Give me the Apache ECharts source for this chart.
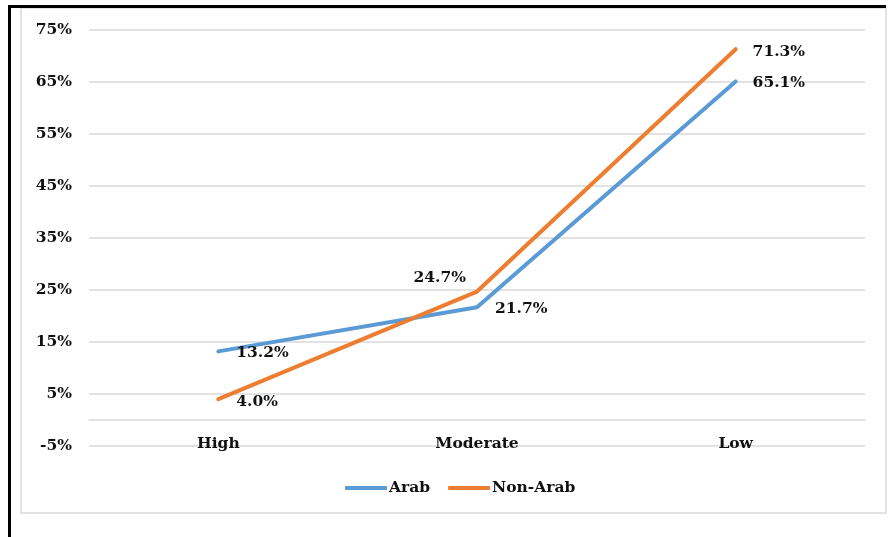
<!DOCTYPE html>
<html>
<head>
<meta charset="utf-8">
<script src="https://cdn.jsdelivr.net/npm/echarts@6/dist/echarts.min.js"></script>
<style>
  html, body { margin: 0; padding: 0; background: #fff; }
  #chart { width: 890px; height: 537px; }
</style>
</head>
<body>
<div id="chart"></div>
<script>
// Share of respondents by level, Arab vs Non-Arab
const categories = ['High', 'Moderate', 'Low'];
const arabValues = [13.2, 21.7, 65.1];
const nonArabValues = [4.0, 24.7, 71.3];
const yTicks = [-5, 5, 15, 25, 35, 45, 55, 65, 75];

// Per-point label placement (offset from the point, alignment)
const arabLabelPos = [
  { offset: [18, 2], align: 'left' },
  { offset: [18, 2], align: 'left' },
  { offset: [17, 2], align: 'left' }
];
const nonArabLabelPos = [
  { offset: [18, 3], align: 'left' },
  { offset: [-11, -14], align: 'right' },
  { offset: [17, 3], align: 'left' }
];

const FONT = 'DejaVu Serif';
const textStyle = { fontFamily: FONT, fontWeight: 'bold', fontSize: 15.5, color: '#111' };

function withLabels(values, placement) {
  return values.map((v, i) => ({
    value: v,
    label: {
      show: true,
      position: placement[i].offset,
      align: placement[i].align,
      verticalAlign: 'middle',
      formatter: (p) => p.value.toFixed(1) + '%',
      ...textStyle
    }
  }));
}

const chart = echarts.init(document.getElementById('chart'), null, { renderer: 'canvas' });

chart.setOption({
  animation: false,
  backgroundColor: '#fff',
  grid: { left: 89, right: 25, top: 30, bottom: 91, containLabel: false },
  legend: {
    left: 340,
    top: 475,
    itemWidth: 42,
    itemHeight: 4,
    itemGap: 18,
    icon: 'roundRect',
    textStyle: { ...textStyle, padding: [0, 0, 0, -3] },
    data: ['Arab', 'Non-Arab']
  },
  xAxis: {
    type: 'category',
    data: categories,
    boundaryGap: true,
    axisLine: { onZero: true, lineStyle: { color: '#d9d9d9', width: 1.5 } },
    axisTick: { show: false },
    axisLabel: { margin: -10, ...textStyle }
  },
  yAxis: {
    type: 'value',
    min: -5,
    max: 75,
    axisLine: { show: false },
    axisTick: { show: false, customValues: yTicks },
    axisLabel: {
      customValues: yTicks,
      margin: 17,
      formatter: (v) => v + '%',
      ...textStyle
    },
    splitLine: { show: true, lineStyle: { color: '#d9d9d9', width: 1.5 } }
  },
  series: [
    {
      name: 'Arab',
      type: 'line',
      data: withLabels(arabValues, arabLabelPos),
      symbol: 'circle',
      symbolSize: 0.1,
      showSymbol: true,
      itemStyle: { color: '#5b9bd5' },
      lineStyle: { color: '#5b9bd5', width: 4, cap: 'round', join: 'round' },
      z: 3
    },
    {
      name: 'Non-Arab',
      type: 'line',
      data: withLabels(nonArabValues, nonArabLabelPos),
      symbol: 'circle',
      symbolSize: 0.1,
      showSymbol: true,
      itemStyle: { color: '#ed7d31' },
      lineStyle: { color: '#ed7d31', width: 4, cap: 'round', join: 'round' },
      z: 4
    }
  ],
  graphic: [
    // light chart-area frame
    {
      type: 'rect',
      shape: { x: 21, y: 8, width: 865, height: 505 },
      style: { fill: 'none', stroke: '#d9d9d9', lineWidth: 1.5 },
      silent: true, z: 0
    },
    // dark outer edge (left and top)
    {
      type: 'rect',
      shape: { x: 8, y: 5, width: 3, height: 532 },
      style: { fill: '#000' },
      silent: true, z: 10
    },
    {
      type: 'rect',
      shape: { x: 8, y: 5, width: 878, height: 3 },
      style: { fill: '#000' },
      silent: true, z: 10
    }
  ]
});
</script>
</body>
</html>
